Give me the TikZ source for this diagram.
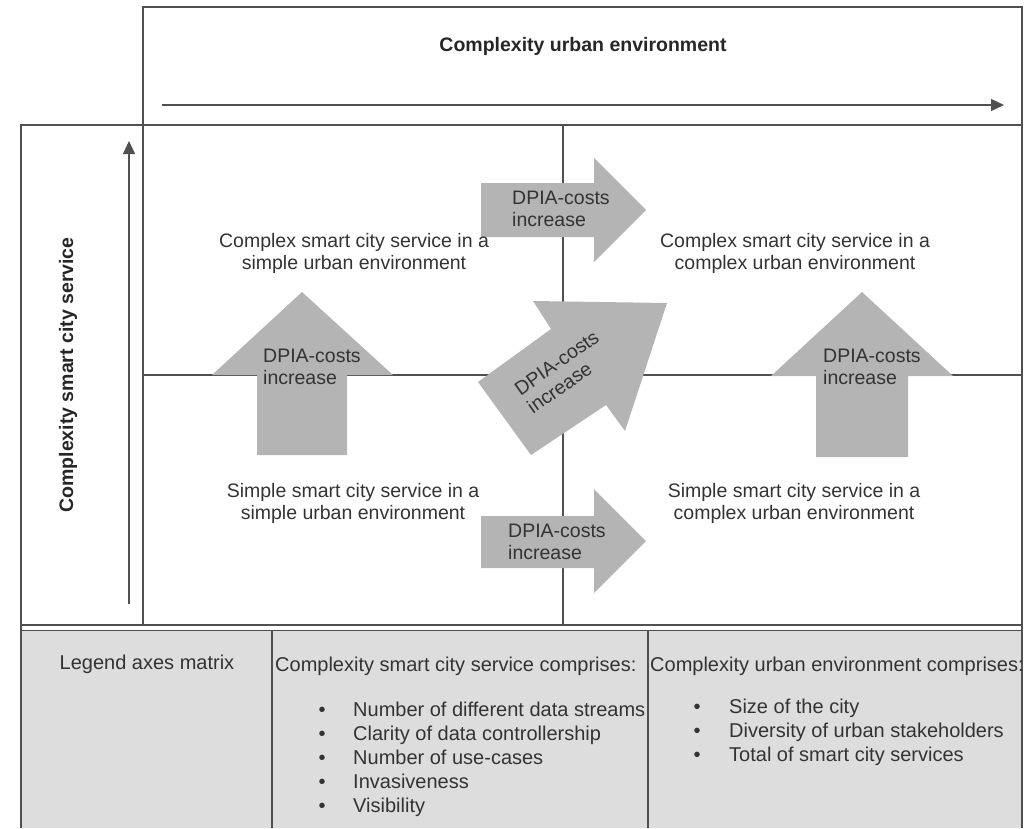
\documentclass[tikz,border=0pt]{standalone}
\usepackage{fontspec}
\setmainfont{Liberation Sans}
\usetikzlibrary{arrows.meta,positioning}

\definecolor{blockgray}{HTML}{B4B4B4}
\definecolor{legendgray}{HTML}{DDDDDD}
\definecolor{linegray}{HTML}{505050}
\definecolor{textgray}{HTML}{333333}

\tikzset{
  cell/.style={align=center,text=textgray},
  cost/.style={align=left,anchor=west,inner sep=0pt,text=textgray},
  item/.style={anchor=base west,inner sep=0pt,text=textgray,font=\fontsize{20}{22}\selectfont},
  dot/.style={anchor=base,inner sep=0pt,text=textgray,font=\fontsize{20}{22}\selectfont},
  head/.style={font=\fontsize{19.5}{22}\selectfont\bfseries,text=black!85},
  block/.style={fill=blockgray},
  frame/.style={draw=linegray,line width=1.2pt},
  axis/.style={draw=linegray,line width=1.2pt,-{Triangle[length=13pt,width=12pt]}}
}

\begin{document}
\begin{tikzpicture}[x=1pt,y=-1pt,font=\fontsize{19.5}{22}\selectfont]
        \useasboundingbox (0,0) rectangle (1032,828);
        \fill[legendgray] (21,631) rectangle (1022,828);
        % frame and matrix
        \draw[frame] (143,125) -- (143,7) -- (1022,7) -- (1022,828);
        \draw[frame] (21,828) -- (21,125) -- (1022,125);
        \draw[frame] (143,125) -- (143,625);
        \draw[frame] (563,125) -- (563,625);
        \draw[frame] (143,375) -- (1022,375);
        \draw[linegray,line width=2pt] (21,625) -- (1022,625);
        \draw[frame] (21,630.5) -- (1022,630.5);
        \draw[frame] (272,631) -- (272,828);
        \draw[frame] (648,631) -- (648,828);
        % axes
        \coordinate (X0) at (162,105);
        \coordinate (X1) at (1004,105);
        \coordinate (Y0) at (129,604);
        \coordinate (Y1) at (129,141);
        \draw[axis] (X0) -- (X1);
        \draw[axis] (Y0) -- (Y1);
        \node[head] (TX) at (583,46) {Complexity urban environment};
        \node[head,rotate=90] (TY) at (68,375) {Complexity smart city service};
        % block arrows
        \fill[block] (257,455) -- (257,375) -- (212,375) -- (302,292) -- (393,375) -- (347,375) -- (347,455) -- cycle;
        \fill[block] (816,457) -- (816,376) -- (771,376) -- (862,292) -- (953,376) -- (908,376) -- (908,457) -- cycle;
        \fill[block] (481,183) -- (594,183) -- (594,158) -- (646,210) -- (594,262) -- (594,237) -- (481,237) -- cycle;
        \fill[block] (481,516) -- (594,516) -- (594,489) -- (646,541) -- (594,593) -- (594,568) -- (481,568) -- cycle;
        \fill[block] (478,382) -- (551,329) -- (533,301) -- (667,303) -- (625,431) -- (606,405) -- (531,455) -- cycle;
        \node[cost] (C1) at (263,367) {DPIA-costs\\increase};
        \node[cost] (C2) at (823,367) {DPIA-costs\\increase};
        \node[cost] (C3) at (512,209) {DPIA-costs\\increase};
        \node[cost] (C4) at (508,542) {DPIA-costs\\increase};
        \node[cost,anchor=center,rotate=35] (C5) at (563,372) {DPIA-costs\\increase};
        % quadrants
        \node[cell] (A) at (354,253) {Complex smart city service in a\\simple urban environment};
        \node[cell] (B) at (795,253) {Complex smart city service in a\\complex urban environment};
        \node[cell] (C) at (353,503) {Simple smart city service in a\\simple urban environment};
        \node[cell] (D) at (794,503) {Simple smart city service in a\\complex urban environment};
        % legend
        \node[cell,font=\fontsize{20}{22}\selectfont] (L0) at (147,664) {Legend axes matrix};
        \node[item] (L1) at (275,671) {Complexity smart city service comprises:};
        \node[item] (L2) at (650,671) {Complexity urban environment comprises:};
        \foreach \t [count=\i] in {Number of different data streams,Clarity of data controllership,Number of use-cases,Invasiveness,Visibility}{
          \node[item] (S\i) at (353,692+24*\i) {\t};
          \node[dot] at (322,692+24*\i) {\textbullet};
        }
        \foreach \t [count=\i] in {Size of the city,Diversity of urban stakeholders,Total of smart city services}{
          \node[item] (U\i) at (729,689+24*\i) {\t};
          \node[dot] at (697,689+24*\i) {\textbullet};
        }
\end{tikzpicture}
\end{document}
